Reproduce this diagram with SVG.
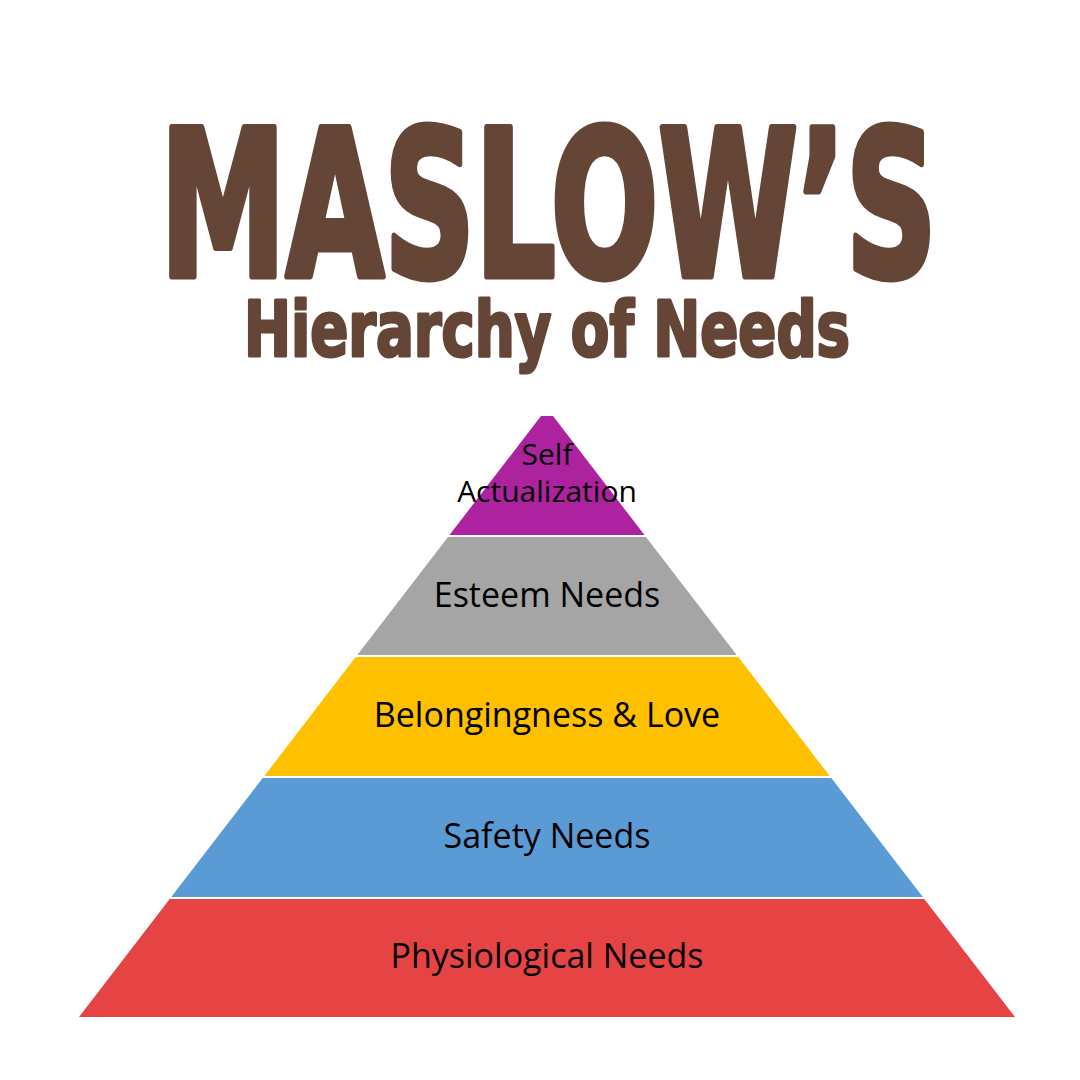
<svg xmlns="http://www.w3.org/2000/svg" width="1080" height="1080" viewBox="0 0 1080 1080">
  <style>
    .title { font-family: "DejaVu Sans Condensed", "DejaVu Sans", sans-serif; font-weight: bold; fill: #654536; stroke: #654536; stroke-linejoin: round; }
    .lbl { font-family: "Open Sans", "Noto Sans", sans-serif; font-size: 34px; fill: #000000; text-anchor: middle; }
    .top { font-size: 30px; }
  </style>
  <rect width="1080" height="1080" fill="#ffffff"/>
  <g id="title">
    <text class="title" x="160" y="276" font-size="204" stroke-width="7" textLength="777" lengthAdjust="spacingAndGlyphs">MASLOW’S</text>
    <text class="title" x="244" y="356" font-size="77" stroke-width="3" textLength="606" lengthAdjust="spacingAndGlyphs">Hierarchy of Needs</text>
  </g>
  <g id="self-actualization">
    <polygon points="541,416 553,416 644.5,535 449.5,535" fill="#AD229F"/>
    <text class="lbl top" x="547" y="465">Self</text>
    <text class="lbl top" x="547" y="502">Actualization</text>
  </g>
  <g id="esteem">
    <polygon points="448,537 646,537 736.7,655 357.3,655" fill="#A5A5A5"/>
    <text class="lbl" x="547" y="607">Esteem Needs</text>
  </g>
  <g id="belongingness">
    <polygon points="355.7,657 738.3,657 829.7,776 264.3,776" fill="#FFC000"/>
    <text class="lbl" x="547" y="727">Belongingness &amp; Love</text>
  </g>
  <g id="safety">
    <polygon points="262.7,778 831.3,778 922.8,897 171.2,897" fill="#5B9BD5"/>
    <text class="lbl" x="547" y="848">Safety Needs</text>
  </g>
  <g id="physiological">
    <polygon points="169.7,899 924.3,899 1015,1017 79,1017" fill="#E64444"/>
    <text class="lbl" x="547" y="968">Physiological Needs</text>
  </g>
  <g id="connectors"/>
</svg>
